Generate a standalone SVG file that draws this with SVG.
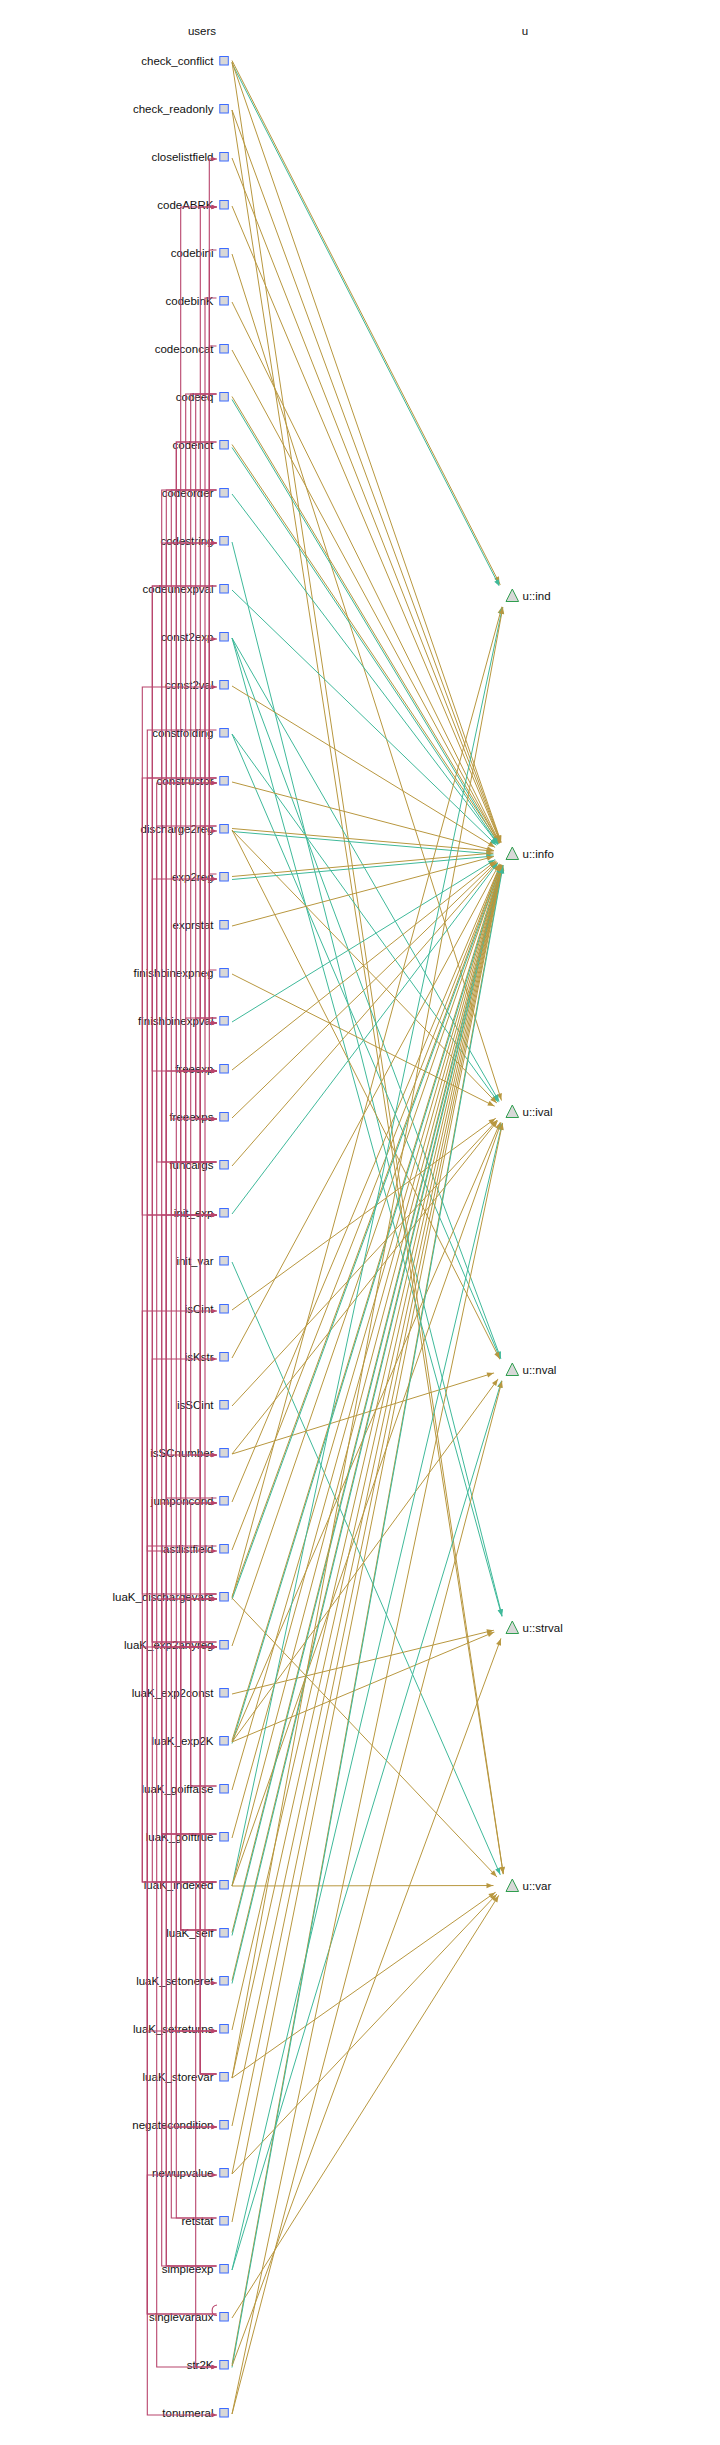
<svg xmlns="http://www.w3.org/2000/svg" width="720" height="2445" viewBox="0 0 720 2445">
<style>
.lbl{font-family:"Liberation Sans",Arial,sans-serif;font-size:11.5px;fill:#111}
.hdr{font-family:"Liberation Sans",Arial,sans-serif;font-size:11.5px;fill:#111;text-anchor:middle}
.sq{fill:#d8d8d8;stroke:#3d6bff;stroke-width:1}
.tri{fill:#d8d8d8;stroke:#2f9e4f;stroke-width:1}
.g{stroke:#b8973f;stroke-width:1;fill:none;marker-end:url(#ag)}
.t{stroke:#3fb99a;stroke-width:1;fill:none;marker-end:url(#at)}
.r{stroke:#b8446c;stroke-width:1.1;fill:none;marker-end:url(#ar)}
.r0{stroke:#b8446c;stroke-width:1.1;fill:none}
</style>
<defs>
<marker id="ag" markerUnits="userSpaceOnUse" viewBox="-20 -5 20 10" markerWidth="20" markerHeight="10" refX="0" refY="0" orient="auto"><path d="M-12,0 L-18.5,-2.6 L-18.5,2.6 z" fill="#b8973f"/></marker>
<marker id="at" markerUnits="userSpaceOnUse" viewBox="-20 -5 20 10" markerWidth="20" markerHeight="10" refX="0" refY="0" orient="auto"><path d="M-12,0 L-18.5,-2.6 L-18.5,2.6 z" fill="#3fb99a"/></marker>
<marker id="ar" markerUnits="userSpaceOnUse" viewBox="-7 -4 8 8" markerWidth="8" markerHeight="8" refX="0" refY="0" orient="auto"><path d="M0,0 L-5.5,-2.3 L-5.5,2.3 z" fill="#b8446c"/></marker>
<mask id="hole" maskUnits="userSpaceOnUse" x="0" y="0" width="720" height="2445">
<rect x="0" y="0" width="720" height="2445" fill="#fff"/>
<circle cx="505" cy="595.5" r="11.5" fill="#000"/>
<circle cx="505" cy="853.5" r="11.5" fill="#000"/>
<circle cx="505" cy="1111.5" r="11.5" fill="#000"/>
<circle cx="505" cy="1369.5" r="11.5" fill="#000"/>
<circle cx="505" cy="1627.5" r="11.5" fill="#000"/>
<circle cx="505" cy="1885.5" r="11.5" fill="#000"/>
</mask>
</defs>
<rect x="0" y="0" width="720" height="2445" fill="#fff"/>
<text class="hdr" x="202" y="35">users</text>
<text class="hdr" x="525" y="35">u</text>

<g id="users">
<g id="n-check_conflict"><rect class="sq" x="219.8" y="56.5" width="8.5" height="8.5"/><text class="lbl" x="213.5" y="65" text-anchor="end">check_conflict</text></g>
<g id="n-check_readonly"><rect class="sq" x="219.8" y="104.5" width="8.5" height="8.5"/><text class="lbl" x="213.5" y="113" text-anchor="end">check_readonly</text></g>
<g id="n-closelistfield"><rect class="sq" x="219.8" y="152.5" width="8.5" height="8.5"/><text class="lbl" x="213.5" y="161" text-anchor="end">closelistfield</text></g>
<g id="n-codeABRK"><rect class="sq" x="219.8" y="200.5" width="8.5" height="8.5"/><text class="lbl" x="213.5" y="209" text-anchor="end">codeABRK</text></g>
<g id="n-codebini"><rect class="sq" x="219.8" y="248.5" width="8.5" height="8.5"/><text class="lbl" x="213.5" y="257" text-anchor="end">codebini</text></g>
<g id="n-codebinK"><rect class="sq" x="219.8" y="296.5" width="8.5" height="8.5"/><text class="lbl" x="213.5" y="305" text-anchor="end">codebinK</text></g>
<g id="n-codeconcat"><rect class="sq" x="219.8" y="344.5" width="8.5" height="8.5"/><text class="lbl" x="213.5" y="353" text-anchor="end">codeconcat</text></g>
<g id="n-codeeq"><rect class="sq" x="219.8" y="392.5" width="8.5" height="8.5"/><text class="lbl" x="213.5" y="401" text-anchor="end">codeeq</text></g>
<g id="n-codenot"><rect class="sq" x="219.8" y="440.5" width="8.5" height="8.5"/><text class="lbl" x="213.5" y="449" text-anchor="end">codenot</text></g>
<g id="n-codeorder"><rect class="sq" x="219.8" y="488.5" width="8.5" height="8.5"/><text class="lbl" x="213.5" y="497" text-anchor="end">codeorder</text></g>
<g id="n-codestring"><rect class="sq" x="219.8" y="536.5" width="8.5" height="8.5"/><text class="lbl" x="213.5" y="545" text-anchor="end">codestring</text></g>
<g id="n-codeunexpval"><rect class="sq" x="219.8" y="584.5" width="8.5" height="8.5"/><text class="lbl" x="213.5" y="593" text-anchor="end">codeunexpval</text></g>
<g id="n-const2exp"><rect class="sq" x="219.8" y="632.5" width="8.5" height="8.5"/><text class="lbl" x="213.5" y="641" text-anchor="end">const2exp</text></g>
<g id="n-const2val"><rect class="sq" x="219.8" y="680.5" width="8.5" height="8.5"/><text class="lbl" x="213.5" y="689" text-anchor="end">const2val</text></g>
<g id="n-constfolding"><rect class="sq" x="219.8" y="728.5" width="8.5" height="8.5"/><text class="lbl" x="213.5" y="737" text-anchor="end">constfolding</text></g>
<g id="n-constructor"><rect class="sq" x="219.8" y="776.5" width="8.5" height="8.5"/><text class="lbl" x="213.5" y="785" text-anchor="end">constructor</text></g>
<g id="n-discharge2reg"><rect class="sq" x="219.8" y="824.5" width="8.5" height="8.5"/><text class="lbl" x="213.5" y="833" text-anchor="end">discharge2reg</text></g>
<g id="n-exp2reg"><rect class="sq" x="219.8" y="872.5" width="8.5" height="8.5"/><text class="lbl" x="213.5" y="881" text-anchor="end">exp2reg</text></g>
<g id="n-exprstat"><rect class="sq" x="219.8" y="920.5" width="8.5" height="8.5"/><text class="lbl" x="213.5" y="929" text-anchor="end">exprstat</text></g>
<g id="n-finishbinexpneg"><rect class="sq" x="219.8" y="968.5" width="8.5" height="8.5"/><text class="lbl" x="213.5" y="977" text-anchor="end">finishbinexpneg</text></g>
<g id="n-finishbinexpval"><rect class="sq" x="219.8" y="1016.5" width="8.5" height="8.5"/><text class="lbl" x="213.5" y="1025" text-anchor="end">finishbinexpval</text></g>
<g id="n-freeexp"><rect class="sq" x="219.8" y="1064.5" width="8.5" height="8.5"/><text class="lbl" x="213.5" y="1073" text-anchor="end">freeexp</text></g>
<g id="n-freeexps"><rect class="sq" x="219.8" y="1112.5" width="8.5" height="8.5"/><text class="lbl" x="213.5" y="1121" text-anchor="end">freeexps</text></g>
<g id="n-funcargs"><rect class="sq" x="219.8" y="1160.5" width="8.5" height="8.5"/><text class="lbl" x="213.5" y="1169" text-anchor="end">funcargs</text></g>
<g id="n-init_exp"><rect class="sq" x="219.8" y="1208.5" width="8.5" height="8.5"/><text class="lbl" x="213.5" y="1217" text-anchor="end">init_exp</text></g>
<g id="n-init_var"><rect class="sq" x="219.8" y="1256.5" width="8.5" height="8.5"/><text class="lbl" x="213.5" y="1265" text-anchor="end">init_var</text></g>
<g id="n-isCint"><rect class="sq" x="219.8" y="1304.5" width="8.5" height="8.5"/><text class="lbl" x="213.5" y="1313" text-anchor="end">isCint</text></g>
<g id="n-isKstr"><rect class="sq" x="219.8" y="1352.5" width="8.5" height="8.5"/><text class="lbl" x="213.5" y="1361" text-anchor="end">isKstr</text></g>
<g id="n-isSCint"><rect class="sq" x="219.8" y="1400.5" width="8.5" height="8.5"/><text class="lbl" x="213.5" y="1409" text-anchor="end">isSCint</text></g>
<g id="n-isSCnumber"><rect class="sq" x="219.8" y="1448.5" width="8.5" height="8.5"/><text class="lbl" x="213.5" y="1457" text-anchor="end">isSCnumber</text></g>
<g id="n-jumponcond"><rect class="sq" x="219.8" y="1496.5" width="8.5" height="8.5"/><text class="lbl" x="213.5" y="1505" text-anchor="end">jumponcond</text></g>
<g id="n-lastlistfield"><rect class="sq" x="219.8" y="1544.5" width="8.5" height="8.5"/><text class="lbl" x="213.5" y="1553" text-anchor="end">lastlistfield</text></g>
<g id="n-luaK_dischargevars"><rect class="sq" x="219.8" y="1592.5" width="8.5" height="8.5"/><text class="lbl" x="213.5" y="1601" text-anchor="end">luaK_dischargevars</text></g>
<g id="n-luaK_exp2anyreg"><rect class="sq" x="219.8" y="1640.5" width="8.5" height="8.5"/><text class="lbl" x="213.5" y="1649" text-anchor="end">luaK_exp2anyreg</text></g>
<g id="n-luaK_exp2const"><rect class="sq" x="219.8" y="1688.5" width="8.5" height="8.5"/><text class="lbl" x="213.5" y="1697" text-anchor="end">luaK_exp2const</text></g>
<g id="n-luaK_exp2K"><rect class="sq" x="219.8" y="1736.5" width="8.5" height="8.5"/><text class="lbl" x="213.5" y="1745" text-anchor="end">luaK_exp2K</text></g>
<g id="n-luaK_goiffalse"><rect class="sq" x="219.8" y="1784.5" width="8.5" height="8.5"/><text class="lbl" x="213.5" y="1793" text-anchor="end">luaK_goiffalse</text></g>
<g id="n-luaK_goiftrue"><rect class="sq" x="219.8" y="1832.5" width="8.5" height="8.5"/><text class="lbl" x="213.5" y="1841" text-anchor="end">luaK_goiftrue</text></g>
<g id="n-luaK_indexed"><rect class="sq" x="219.8" y="1880.5" width="8.5" height="8.5"/><text class="lbl" x="213.5" y="1889" text-anchor="end">luaK_indexed</text></g>
<g id="n-luaK_self"><rect class="sq" x="219.8" y="1928.5" width="8.5" height="8.5"/><text class="lbl" x="213.5" y="1937" text-anchor="end">luaK_self</text></g>
<g id="n-luaK_setoneret"><rect class="sq" x="219.8" y="1976.5" width="8.5" height="8.5"/><text class="lbl" x="213.5" y="1985" text-anchor="end">luaK_setoneret</text></g>
<g id="n-luaK_setreturns"><rect class="sq" x="219.8" y="2024.5" width="8.5" height="8.5"/><text class="lbl" x="213.5" y="2033" text-anchor="end">luaK_setreturns</text></g>
<g id="n-luaK_storevar"><rect class="sq" x="219.8" y="2072.5" width="8.5" height="8.5"/><text class="lbl" x="213.5" y="2081" text-anchor="end">luaK_storevar</text></g>
<g id="n-negatecondition"><rect class="sq" x="219.8" y="2120.5" width="8.5" height="8.5"/><text class="lbl" x="213.5" y="2129" text-anchor="end">negatecondition</text></g>
<g id="n-newupvalue"><rect class="sq" x="219.8" y="2168.5" width="8.5" height="8.5"/><text class="lbl" x="213.5" y="2177" text-anchor="end">newupvalue</text></g>
<g id="n-retstat"><rect class="sq" x="219.8" y="2216.5" width="8.5" height="8.5"/><text class="lbl" x="213.5" y="2225" text-anchor="end">retstat</text></g>
<g id="n-simpleexp"><rect class="sq" x="219.8" y="2264.5" width="8.5" height="8.5"/><text class="lbl" x="213.5" y="2273" text-anchor="end">simpleexp</text></g>
<g id="n-singlevaraux"><rect class="sq" x="219.8" y="2312.5" width="8.5" height="8.5"/><text class="lbl" x="213.5" y="2321" text-anchor="end">singlevaraux</text></g>
<g id="n-str2K"><rect class="sq" x="219.8" y="2360.5" width="8.5" height="8.5"/><text class="lbl" x="213.5" y="2369" text-anchor="end">str2K</text></g>
<g id="n-tonumeral"><rect class="sq" x="219.8" y="2408.5" width="8.5" height="8.5"/><text class="lbl" x="213.5" y="2417" text-anchor="end">tonumeral</text></g>
</g>

<g id="fields">
<g id="f-ind"><polygon class="tri" points="512.3,589 506,601.5 518.6,601.5"/><text class="lbl" x="522.5" y="600">u::ind</text></g>
<g id="f-info"><polygon class="tri" points="512.3,847 506,859.5 518.6,859.5"/><text class="lbl" x="522.5" y="858">u::info</text></g>
<g id="f-ival"><polygon class="tri" points="512.3,1105 506,1117.5 518.6,1117.5"/><text class="lbl" x="522.5" y="1116">u::ival</text></g>
<g id="f-nval"><polygon class="tri" points="512.3,1363 506,1375.5 518.6,1375.5"/><text class="lbl" x="522.5" y="1374">u::nval</text></g>
<g id="f-strval"><polygon class="tri" points="512.3,1621 506,1633.5 518.6,1633.5"/><text class="lbl" x="522.5" y="1632">u::strval</text></g>
<g id="f-var"><polygon class="tri" points="512.3,1879 506,1891.5 518.6,1891.5"/><text class="lbl" x="522.5" y="1890">u::var</text></g>
</g>

<g id="connectors">
<g id="calls">
<path class="r" d="M216.5,778H209.3V159H217"/>
<path class="r" d="M216.5,1930H180.7V207H217"/>
<path class="r" d="M216.5,2074H200.3V207H217"/>
<path class="r" d="M216.5,250H209.3V1023H217"/>
<path class="r" d="M216.5,298H205V1023H217"/>
<path class="r" d="M216.5,346H209.3V1071H217"/>
<path class="r" d="M216.5,394H185.7V1647H217"/>
<path class="r" d="M216.5,394H190.7V1455H217"/>
<path class="r" d="M216.5,394H195.7V1119H217"/>
<path class="r" d="M216.5,442H176.3V2127H217"/>
<path class="r" d="M216.5,442H176.3V1071H217"/>
<path class="r" d="M216.5,490H161.7V1455H217"/>
<path class="r" d="M216.5,490H166.3V1647H217"/>
<path class="r" d="M216.5,490H171.3V1119H217"/>
<path class="r" d="M216.5,586H152.3V1647H217"/>
<path class="r" d="M216.5,586H152.3V1071H217"/>
<path class="r" d="M216.5,1594H205V639H217"/>
<path class="r" d="M216.5,1594H142.3V687H217"/>
<path class="r" d="M216.5,1594H205V1983H217"/>
<path class="r" d="M216.5,730H147.3V2415H217"/>
<path class="r" d="M216.5,778H142.3V1215H217"/>
<path class="r" d="M216.5,778H147.3V1551H217"/>
<path class="r" d="M216.5,826H200.3V1599H217"/>
<path class="r" d="M216.5,826H156.7V2367H217"/>
<path class="r" d="M216.5,874H209.3V831H217"/>
<path class="r" d="M216.5,970H209.3V1023H217"/>
<path class="r" d="M216.5,1018H185.7V1647H217"/>
<path class="r" d="M216.5,1018H195.7V1119H217"/>
<path class="r" d="M216.5,1162H161.7V543H217"/>
<path class="r" d="M216.5,1162H156.7V783H217"/>
<path class="r" d="M216.5,1162H171.3V1215H217"/>
<path class="r" d="M216.5,1162H171.3V2031H217"/>
<path class="r" d="M216.5,1498H166.3V1071H217"/>
<path class="r" d="M216.5,1546H147.3V2031H217"/>
<path class="r" d="M216.5,1642H152.3V1599H217"/>
<path class="r" d="M216.5,1642H152.3V879H217"/>
<path class="r" d="M216.5,1786H190.7V1599H217"/>
<path class="r" d="M216.5,1786H190.7V1503H217"/>
<path class="r" d="M216.5,1834H161.7V1599H217"/>
<path class="r" d="M216.5,1834H161.7V2127H217"/>
<path class="r" d="M216.5,1834H161.7V1503H217"/>
<path class="r" d="M216.5,1882H195.7V2367H217"/>
<path class="r" d="M216.5,1882H152.3V1359H217"/>
<path class="r" d="M216.5,1882H142.3V1647H217"/>
<path class="r" d="M216.5,1882H142.3V1311H217"/>
<path class="r" d="M216.5,1930H180.7V1647H217"/>
<path class="r" d="M216.5,1930H180.7V1071H217"/>
<path class="r" d="M216.5,2074H200.3V1071H217"/>
<path class="r" d="M216.5,2074H200.3V879H217"/>
<path class="r" d="M216.5,2074H200.3V1647H217"/>
<path class="r" d="M216.5,2218H171.3V2031H217"/>
<path class="r" d="M216.5,2218H176.3V1647H217"/>
<path class="r" d="M216.5,2266H161.7V1215H217"/>
<path class="r" d="M216.5,2266H166.3V543H217"/>
<path class="r" d="M216.5,2266H166.3V783H217"/>
<path class="r" d="M216.5,2314H147.3V1215H217"/>
<path class="r" d="M216.5,2314H147.3V2175H217"/>
<path class="r0" d="M217,2315.5C210.5,2315.5 210.5,2306 217,2305"/>
</g>
<g id="uses" mask="url(#hole)">
<line class="g" x1="232" y1="60.5" x2="505" y2="594"/>
<line class="t" x1="232" y1="63.5" x2="505" y2="597"/>
<line class="g" x1="232" y1="62" x2="505" y2="853.5"/>
<line class="g" x1="232" y1="62" x2="505" y2="1885.5"/>
<line class="g" x1="232" y1="110" x2="505" y2="853.5"/>
<line class="g" x1="232" y1="110" x2="505" y2="1885.5"/>
<line class="g" x1="232" y1="158" x2="505" y2="853.5"/>
<line class="g" x1="232" y1="206" x2="505" y2="853.5"/>
<line class="g" x1="232" y1="254" x2="505" y2="1111.5"/>
<line class="g" x1="232" y1="302" x2="505" y2="853.5"/>
<line class="g" x1="232" y1="350" x2="505" y2="853.5"/>
<line class="g" x1="232" y1="396.5" x2="505" y2="852"/>
<line class="t" x1="232" y1="399.5" x2="505" y2="855"/>
<line class="g" x1="232" y1="444.5" x2="505" y2="852"/>
<line class="t" x1="232" y1="447.5" x2="505" y2="855"/>
<line class="t" x1="232" y1="494" x2="505" y2="853.5"/>
<line class="t" x1="232" y1="542" x2="505" y2="1627.5"/>
<line class="t" x1="232" y1="590" x2="505" y2="853.5"/>
<line class="t" x1="232" y1="638" x2="505" y2="1111.5"/>
<line class="t" x1="232" y1="638" x2="505" y2="1369.5"/>
<line class="t" x1="232" y1="638" x2="505" y2="1627.5"/>
<line class="g" x1="232" y1="686" x2="505" y2="853.5"/>
<line class="t" x1="232" y1="734" x2="505" y2="1111.5"/>
<line class="t" x1="232" y1="734" x2="505" y2="1369.5"/>
<line class="g" x1="232" y1="782" x2="505" y2="853.5"/>
<line class="g" x1="232" y1="828.5" x2="505" y2="852"/>
<line class="t" x1="232" y1="831.5" x2="505" y2="855"/>
<line class="g" x1="232" y1="830" x2="505" y2="1369.5"/>
<line class="g" x1="232" y1="830" x2="505" y2="1111.5"/>
<line class="g" x1="232" y1="876.5" x2="505" y2="852"/>
<line class="t" x1="232" y1="879.5" x2="505" y2="855"/>
<line class="g" x1="232" y1="926" x2="505" y2="853.5"/>
<line class="g" x1="232" y1="974" x2="505" y2="1111.5"/>
<line class="t" x1="232" y1="1022" x2="505" y2="853.5"/>
<line class="g" x1="232" y1="1070" x2="505" y2="853.5"/>
<line class="g" x1="232" y1="1118" x2="505" y2="853.5"/>
<line class="g" x1="232" y1="1166" x2="505" y2="853.5"/>
<line class="t" x1="232" y1="1214" x2="505" y2="853.5"/>
<line class="t" x1="232" y1="1262" x2="505" y2="1885.5"/>
<line class="g" x1="232" y1="1310" x2="505" y2="1111.5"/>
<line class="g" x1="232" y1="1358" x2="505" y2="853.5"/>
<line class="g" x1="232" y1="1406" x2="505" y2="1111.5"/>
<line class="g" x1="232" y1="1454" x2="505" y2="1111.5"/>
<line class="g" x1="232" y1="1454" x2="505" y2="1369.5"/>
<line class="g" x1="232" y1="1502" x2="505" y2="853.5"/>
<line class="g" x1="232" y1="1550" x2="505" y2="853.5"/>
<line class="g" x1="232" y1="1598" x2="505" y2="595.5"/>
<line class="g" x1="232" y1="1596.5" x2="505" y2="852"/>
<line class="t" x1="232" y1="1599.5" x2="505" y2="855"/>
<line class="g" x1="232" y1="1598" x2="505" y2="1885.5"/>
<line class="g" x1="232" y1="1646" x2="505" y2="853.5"/>
<line class="g" x1="232" y1="1694" x2="505" y2="1627.5"/>
<line class="g" x1="232" y1="1740.5" x2="505" y2="852"/>
<line class="t" x1="232" y1="1743.5" x2="505" y2="855"/>
<line class="g" x1="232" y1="1742" x2="505" y2="1111.5"/>
<line class="g" x1="232" y1="1742" x2="505" y2="1369.5"/>
<line class="g" x1="232" y1="1742" x2="505" y2="1627.5"/>
<line class="g" x1="232" y1="1790" x2="505" y2="853.5"/>
<line class="g" x1="232" y1="1838" x2="505" y2="853.5"/>
<line class="t" x1="232" y1="1886" x2="505" y2="595.5"/>
<line class="g" x1="232" y1="1886" x2="505" y2="853.5"/>
<line class="g" x1="232" y1="1886" x2="505" y2="1111.5"/>
<line class="g" x1="232" y1="1886" x2="505" y2="1885.5"/>
<line class="g" x1="232" y1="1932.5" x2="505" y2="852"/>
<line class="t" x1="232" y1="1935.5" x2="505" y2="855"/>
<line class="g" x1="232" y1="1980.5" x2="505" y2="852"/>
<line class="t" x1="232" y1="1983.5" x2="505" y2="855"/>
<line class="g" x1="232" y1="2030" x2="505" y2="853.5"/>
<line class="g" x1="232" y1="2078" x2="505" y2="595.5"/>
<line class="g" x1="232" y1="2078" x2="505" y2="853.5"/>
<line class="g" x1="232" y1="2078" x2="505" y2="1885.5"/>
<line class="g" x1="232" y1="2126" x2="505" y2="853.5"/>
<line class="g" x1="232" y1="2174" x2="505" y2="853.5"/>
<line class="g" x1="232" y1="2174" x2="505" y2="1885.5"/>
<line class="g" x1="232" y1="2222" x2="505" y2="853.5"/>
<line class="t" x1="232" y1="2270" x2="505" y2="1111.5"/>
<line class="t" x1="232" y1="2270" x2="505" y2="1369.5"/>
<line class="g" x1="232" y1="2318" x2="505" y2="1885.5"/>
<line class="g" x1="232" y1="2364.5" x2="505" y2="852"/>
<line class="t" x1="232" y1="2367.5" x2="505" y2="855"/>
<line class="g" x1="232" y1="2366" x2="505" y2="1627.5"/>
<line class="g" x1="232" y1="2414" x2="505" y2="1111.5"/>
<line class="g" x1="232" y1="2414" x2="505" y2="1369.5"/>
</g>
</g>
</svg>
